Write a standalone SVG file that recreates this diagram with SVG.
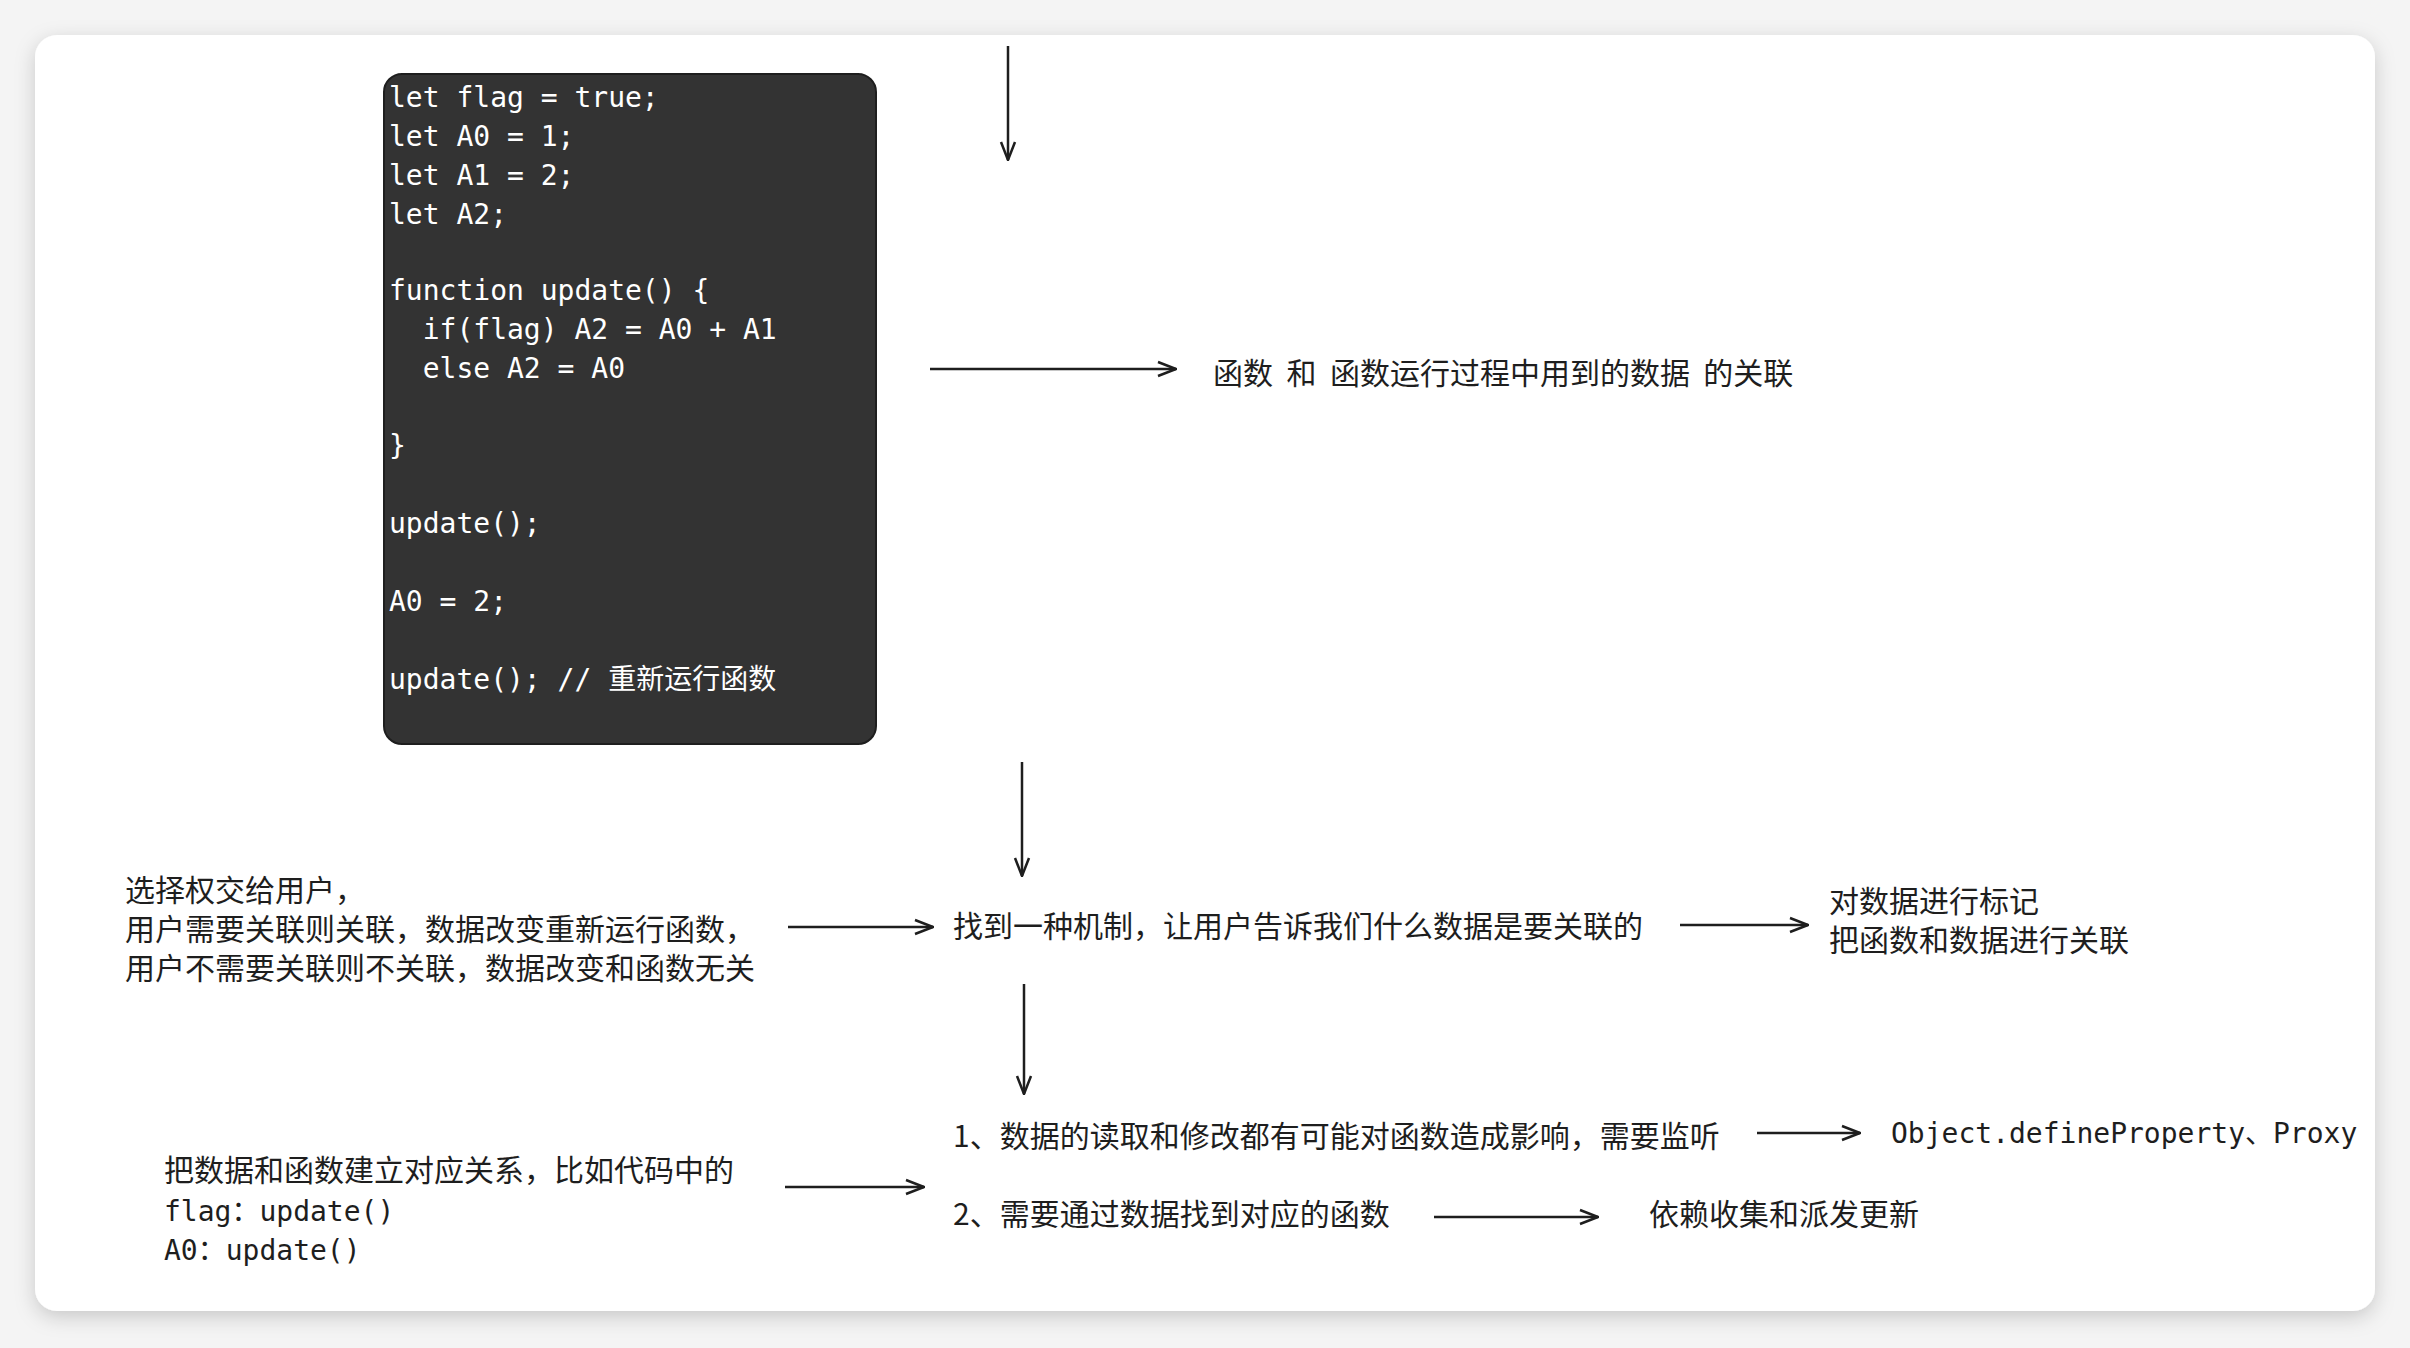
<svg xmlns="http://www.w3.org/2000/svg" width="2410" height="1348" viewBox="0 0 2410 1348">
<defs>
<style>
.t{font-family:"Noto Sans CJK SC","Noto Sans",sans-serif;font-size:30px;fill:#1e1e1e}
.m{font-family:"DejaVu Sans Mono","Noto Sans CJK SC",monospace;font-size:28px;fill:#1e1e1e}
.c{font-family:"DejaVu Sans Mono","Noto Sans CJK SC",monospace;font-size:28px;fill:#ffffff}
.a{stroke:#1e1e1e;stroke-width:2.5;fill:none;marker-end:url(#ah)}
</style>
<marker id="ah" viewBox="0 0 20 20" refX="19" refY="10" markerWidth="20" markerHeight="20" markerUnits="userSpaceOnUse" orient="auto">
<path d="M1,3 L19,10 L1,17" fill="none" stroke="#1e1e1e" stroke-width="2.5"/>
</marker>
<filter id="sh" x="-5%" y="-5%" width="110%" height="110%"><feDropShadow dx="0" dy="6" stdDeviation="10" flood-opacity="0.18"/></filter>
</defs>
<rect width="2410" height="1348" fill="#f4f4f4"/>
<rect x="35" y="35" width="2340" height="1276" rx="22" fill="#ffffff" filter="url(#sh)"/>
<g id="code">
<rect x="384" y="74" width="492" height="670" rx="18" fill="#333333" stroke="#1e1e1e" stroke-width="2"/>
<text class="c" x="389" y="107">let flag = true;</text>
<text class="c" x="389" y="146">let A0 = 1;</text>
<text class="c" x="389" y="185">let A1 = 2;</text>
<text class="c" x="389" y="224">let A2;</text>
<text class="c" x="389" y="300">function update() {</text>
<text class="c" x="389" y="339" xml:space="preserve">  if(flag) A2 = A0 + A1</text>
<text class="c" x="389" y="378" xml:space="preserve">  else A2 = A0</text>
<text class="c" x="389" y="455">}</text>
<text class="c" x="389" y="533">update();</text>
<text class="c" x="389" y="611">A0 = 2;</text>
<text class="c" x="389" y="689">update(); // 重新运行函数</text>
</g>
<g id="relation"><text class="t" x="1213" y="384" xml:space="preserve">函数  和  函数运行过程中用到的数据  的关联</text></g>
<g id="choice">
<text class="t" x="125" y="901">选择权交给用户，</text>
<text class="t" x="125" y="940">用户需要关联则关联，数据改变重新运行函数，</text>
<text class="t" x="125" y="979">用户不需要关联则不关联，数据改变和函数无关</text>
</g>
<g id="mechanism"><text class="t" x="953" y="937">找到一种机制，让用户告诉我们什么数据是要关联的</text></g>
<g id="mark">
<text class="t" x="1829" y="912">对数据进行标记</text>
<text class="t" x="1829" y="951">把函数和数据进行关联</text>
</g>
<g id="step1"><text class="t" x="953" y="1147">1、数据的读取和修改都有可能对函数造成影响，需要监听</text></g>
<g id="proxy"><text class="m" x="1891" y="1143">Object.defineProperty、Proxy</text></g>
<g id="mapping">
<text class="t" x="164" y="1181">把数据和函数建立对应关系，比如代码中的</text>
<text class="m" x="164" y="1221">flag：update()</text>
<text class="m" x="164" y="1260">A0：update()</text>
</g>
<g id="step2"><text class="t" x="953" y="1225">2、需要通过数据找到对应的函数</text></g>
<g id="deps"><text class="t" x="1649" y="1225">依赖收集和派发更新</text></g>
<g id="connectors">
<line class="a" x1="1008" y1="46" x2="1008" y2="160"/>
<line class="a" x1="930" y1="369" x2="1176" y2="369"/>
<line class="a" x1="1022" y1="762" x2="1022" y2="876"/>
<line class="a" x1="788" y1="927" x2="933" y2="927"/>
<line class="a" x1="1680" y1="925" x2="1808" y2="925"/>
<line class="a" x1="1024" y1="984" x2="1024" y2="1094"/>
<line class="a" x1="1757" y1="1133" x2="1860" y2="1133"/>
<line class="a" x1="785" y1="1187" x2="924" y2="1187"/>
<line class="a" x1="1434" y1="1217" x2="1598" y2="1217"/>
</g>
</svg>
